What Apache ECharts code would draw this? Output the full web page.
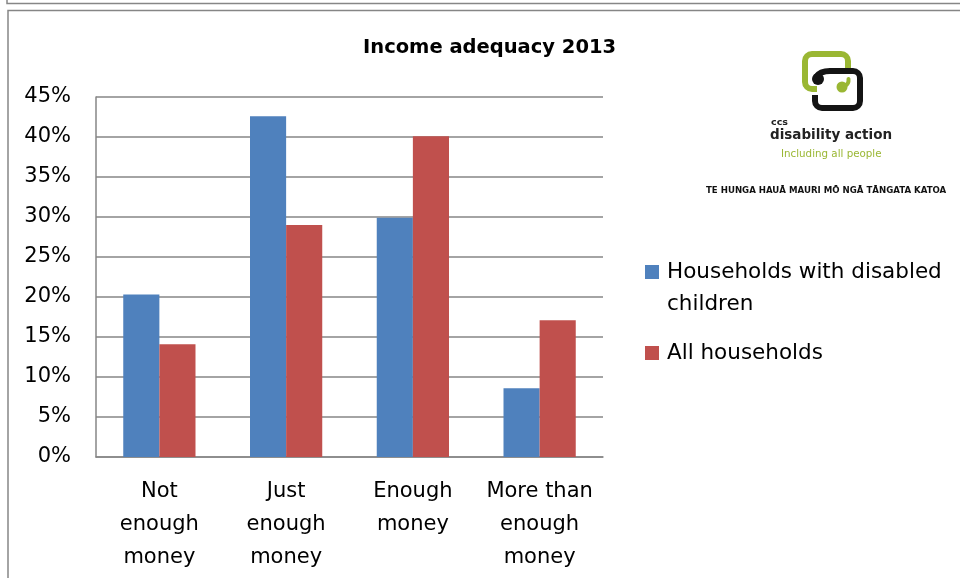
<!DOCTYPE html>
<html>
<head>
<meta charset="utf-8">
<script src="https://cdn.jsdelivr.net/npm/echarts@6/dist/echarts.min.js"></script>
<style>html,body{margin:0;padding:0;background:#fff}#c{width:960px;height:578px}</style>
</head>
<body>
<div id="c"></div>
<script>
const categories = ['Not\nenough\nmoney', 'Just\nenough\nmoney', 'Enough\nmoney', 'More than\nenough\nmoney'];
const seriesNames = ['Households with disabled children', 'All households'];
const disabledChildren = [20.3, 42.6, 29.9, 8.6];
const allHouseholds = [14.1, 29.0, 40.1, 17.1];
const yMin = 0, yMax = 45, yStep = 5;

const FONT = 'DejaVu Sans';
const GRAY = '#868686';
const chart = echarts.init(document.getElementById('c'), null, {renderer: 'canvas'});

const green = '#9AB733';
const black = '#141414';
const P = Math.PI;

function seg(x1, y1, x2, y2, c, w) {
  return {type: 'line', shape: {x1: x1, y1: y1, x2: x2, y2: y2}, style: {stroke: c, lineWidth: w, lineCap: 'butt'}};
}
function arc(cx, cy, r, a0, a1, c, w) {
  return {type: 'arc', shape: {cx: cx, cy: cy, r: r, startAngle: a0, endAngle: a1, clockwise: true}, style: {stroke: c, lineWidth: w, fill: null}};
}
const W = 6, R = 7;
const gl = 805, gt = 54, gr = 848, gb = 89;
const bl = 815, bt = 71, br = 860, bb = 108;
const logo = [
  seg(gr, 73, gr, gt + R, green, W),
  arc(gr - R, gt + R, R, -P / 2, 0, green, W),
  seg(gr - R, gt, gl + R, gt, green, W),
  arc(gl + R, gt + R, R, P, 1.5 * P, green, W),
  seg(gl, gt + R, gl, gb - R, green, W),
  arc(gl + R, gb - R, R, P / 2, P, green, W),
  seg(gl + R, gb, 817, gb, green, W),
  {type: 'bezierCurve', shape: {x1: 816, y1: 77, cpx1: 820, cpy1: bt, x2: 830, y2: bt}, style: {stroke: black, lineWidth: W, fill: null}},
  seg(829, bt, br - R, bt, black, W),
  arc(br - R, bt + R, R, -P / 2, 0, black, W),
  seg(br, bt + R, br, bb - R, black, W),
  arc(br - R, bb - R, R, 0, P / 2, black, W),
  seg(br - R, bb, bl + R, bb, black, W),
  arc(bl + R, bb - R, R, P / 2, P, black, W),
  seg(bl, bb - R, bl, 95, black, W),
  {type: 'circle', shape: {cx: 818, cy: 79, r: 6}, style: {fill: black}},
  {type: 'bezierCurve', shape: {x1: 845, y1: 86, cpx1: 849, cpy1: 84, x2: 848.5, y2: 79}, style: {stroke: green, lineWidth: 4, fill: null, lineCap: 'round'}},
  {type: 'circle', shape: {cx: 842, cy: 87, r: 5.5}, style: {fill: green}}
];

chart.setOption({
  animation: false,
  title: {
    text: 'Income adequacy 2013',
    left: 363, top: 38, padding: 0,
    textStyle: {fontFamily: FONT, fontWeight: 'bold', fontSize: 19.5, color: '#000'}
  },
  grid: {left: 96, top: 97, right: 357, bottom: 121, containLabel: false},
  legend: {
    orient: 'vertical', left: 645, top: 224, padding: 0, itemGap: 17,
    itemWidth: 14, itemHeight: 14, icon: 'rect',
    formatter: function (n) { return n === seriesNames[0] ? ' \nHouseholds with disabled\nchildren' : n; },
    textStyle: {fontFamily: FONT, fontSize: 21.5, color: '#000', lineHeight: 32, padding: [0, 0, 0, 3]},
    data: seriesNames
  },
  xAxis: {
    type: 'category', data: categories,
    axisLine: {lineStyle: {color: GRAY, width: 1.5}},
    axisTick: {show: false},
    axisLabel: {fontFamily: FONT, fontSize: 21, color: '#000', lineHeight: 33, margin: 18, interval: 0}
  },
  yAxis: {
    type: 'value', min: yMin, max: yMax, interval: yStep,
    axisLine: {show: true, lineStyle: {color: GRAY, width: 1.5}},
    axisTick: {show: false},
    splitLine: {lineStyle: {color: GRAY, width: 1.5}},
    axisLabel: {fontFamily: FONT, fontSize: 21, color: '#000', margin: 25, formatter: '{value}%'}
  },
  series: [
    {name: seriesNames[0], type: 'bar', data: disabledChildren, barGap: '0%', barCategoryGap: '43%',
     itemStyle: {color: '#4F81BD'}},
    {name: seriesNames[1], type: 'bar', data: allHouseholds, barGap: '0%', barCategoryGap: '43%',
     itemStyle: {color: '#C0504D'}}
  ],
  graphic: [
    {type: 'polyline', shape: {points: [[7, 0], [7, 3.5], [960, 3.5]]}, style: {stroke: GRAY, lineWidth: 1.5, fill: null}},
    {type: 'polyline', shape: {points: [[8, 578], [8, 10.5], [960, 10.5]]}, style: {stroke: GRAY, lineWidth: 1.5, fill: null}},
    {type: 'group', children: logo},
    {type: 'text', style: {text: 'ccs', x: 771, y: 118, fontFamily: FONT, fontWeight: 'bold', fontSize: 9.5, fill: '#222'}},
    {type: 'text', style: {text: 'disability action', x: 770, y: 128, fontFamily: FONT, fontWeight: 'bold', fontSize: 13.5, fill: '#222'}},
    {type: 'text', style: {text: 'Including all people', x: 781, y: 149, fontFamily: FONT, fontSize: 10.3, fill: green}},
    {type: 'text', style: {text: 'TE HUNGA HAUĀ MAURI MŌ NGĀ TĀNGATA KATOA', x: 706, y: 186, fontFamily: FONT, fontWeight: 'bold', fontSize: 8.6, fill: '#111'}}
  ]
});
</script>
</body>
</html>
